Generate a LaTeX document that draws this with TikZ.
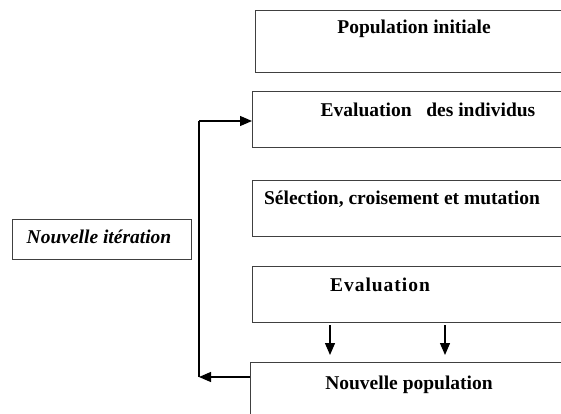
\documentclass[tikz,border=0pt]{standalone}
\usepackage{fontspec}
\setmainfont{Liberation Serif}
\usetikzlibrary{arrows.meta}
\begin{document}
\begin{tikzpicture}[x=1pt,y=-1pt,
  box/.style={draw=black!75, line width=0.9pt, rectangle, anchor=north west, inner sep=0pt},
  lbl/.style={font=\bfseries\fontsize{19.5}{22}\selectfont, inner sep=0pt, anchor=base},
  arr/.style={line width=1.3pt, -{Triangle[length=12pt,width=10pt]}},
  wire/.style={line width=1.3pt}]
\useasboundingbox (0,0) rectangle (561,414);
\clip (0,0) rectangle (561,414);
\node[box, minimum width=320pt, minimum height=62pt] (pi) at (255,10) {};
\node[box, minimum width=320pt, minimum height=56pt] (ei) at (252,91) {};
\node[box, minimum width=320pt, minimum height=56pt] (sc) at (252,180) {};
\node[box, minimum width=320pt, minimum height=56pt] (ev) at (252,266) {};
\node[box, minimum width=320pt, minimum height=70pt] (np) at (250,362) {};
\node[box, minimum width=179pt, minimum height=40pt] (ni) at (12,219) {};
\node[lbl] (tpi) at (414,34) {Population initiale};
\node[lbl] (tei) at (428,117) {Evaluation\ \ \ des individus};
\node[lbl] (tsc) at (402,204) {Sélection, croisement et mutation};
\node[lbl] (tev) at (380,291) {\addfontfeature{LetterSpace=5}Evaluation};
\node[lbl] (tnp) at (409,389) {Nouvelle population};
\node[lbl, font=\bfseries\itshape\fontsize{19.5}{22}\selectfont] (tni) at (99,243) {Nouvelle itération};
\coordinate (c1) at (199,377);
\coordinate (c2) at (199,121);
\coordinate (a1) at (330,325);
\coordinate (b1) at (330,355);
\coordinate (a2) at (445,325);
\coordinate (b2) at (445,355);
\draw[arr] (np.west |- c1) -- (c1);
\draw[wire] (c1) -- (c2);
\draw[arr] (c2) -- (ei.west |- c2);
\draw[arr] (a1) -- (b1);
\draw[arr] (a2) -- (b2);
\end{tikzpicture}
\end{document}
